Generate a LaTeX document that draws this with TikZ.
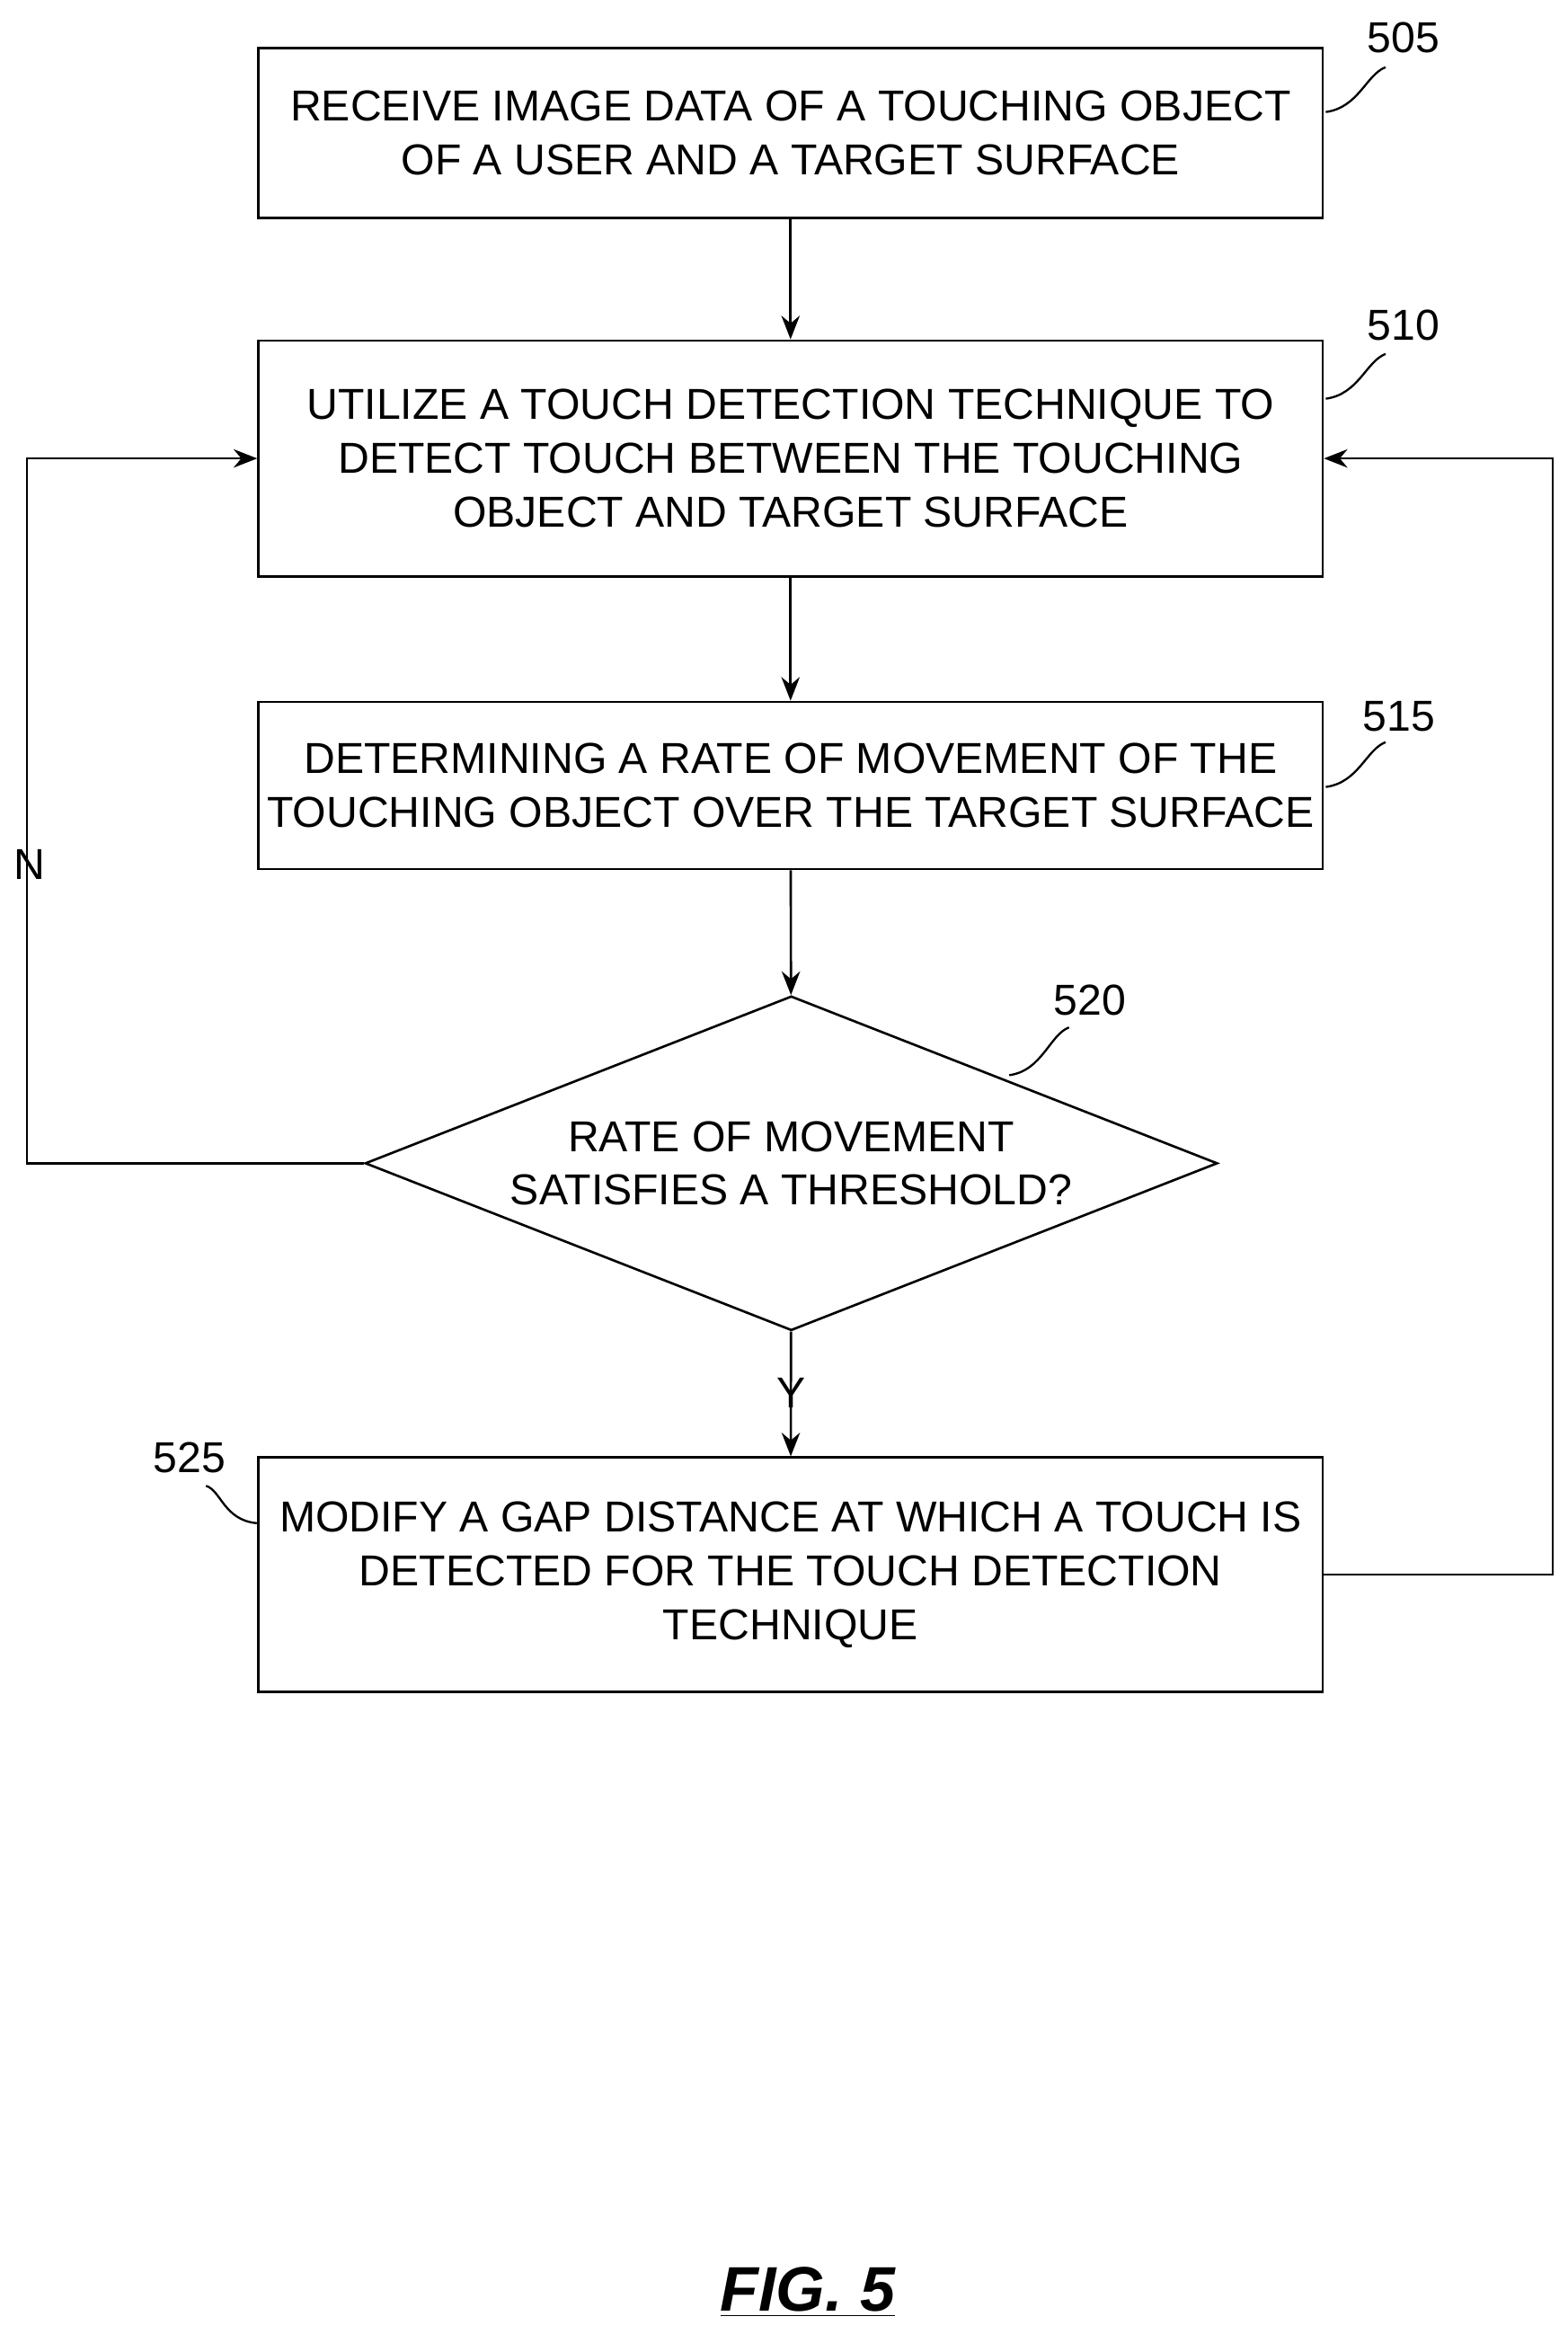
\documentclass[tikz,border=0pt]{standalone}
\usepackage{fontspec}
\setmainfont{Liberation Sans}
\usetikzlibrary{shapes.geometric,arrows.meta}

\begin{document}
\begin{tikzpicture}[x=0.02cm,y=-0.02cm,
  every node/.style={font=\fontsize{16.5}{20.5}\selectfont},
  stepbox/.style={draw,line width=0.9pt,align=center,inner sep=0pt},
  decision/.style={draw,diamond,line width=0.9pt,align=center,inner sep=0pt,aspect=2.55},
  flow/.style={line width=0.9pt,-{Stealth[length=9pt,width=7pt]}},
  lead/.style={line width=0.8pt}]
\useasboundingbox (0,0) rectangle (1050,1563);
\node[stepbox,minimum width=14.26cm,minimum height=2.28cm] (s505) at (529.5,89)
  {RECEIVE IMAGE DATA OF A TOUCHING OBJECT\\OF A USER AND A TARGET SURFACE};
\node[stepbox,minimum width=14.26cm,minimum height=3.16cm] (s510) at (529.5,307)
  {UTILIZE A TOUCH DETECTION TECHNIQUE TO\\DETECT TOUCH BETWEEN THE TOUCHING\\OBJECT AND TARGET SURFACE};
\node[stepbox,minimum width=14.26cm,minimum height=2.24cm] (s515) at (529.5,526)
  {DETERMINING A RATE OF MOVEMENT OF THE\\TOUCHING OBJECT OVER THE TARGET SURFACE};
\node[decision,minimum width=11.42cm,minimum height=4.48cm] (d520) at (530,779)
  {RATE OF MOVEMENT\\SATISFIES A THRESHOLD?};
\node[stepbox,minimum width=14.26cm,minimum height=3.14cm] (s525) at (529.5,1054.5)
  {MODIFY A GAP DISTANCE AT WHICH A TOUCH IS\\DETECTED FOR THE TOUCH DETECTION\\TECHNIQUE};

% connectors
\draw[flow] (s505) -- (s510);
\draw[flow] (s510) -- (s515);
\draw[flow] (s515) -- (d520);
\draw[flow] (d520) -- (s525);
\coordinate (nl) at (18,779);
\coordinate (rr) at (1040,1054.5);
\draw[flow] (d520.west) -- (nl) |- (s510.west);
\draw[flow] (s525.east) -- (rr) |- (s510.east);
\node (lN) at (20,579) {N};
\node (lY) at (530,933) {Y};

% reference numerals
\node (n505) at (940,25) {505};
\node (n510) at (940,218) {510};
\node (n515) at (937,480) {515};
\node (n520) at (730,670) {520};
\node (n525) at (127,976) {525};
\draw[lead] (888,75) .. controls (910,72) and (915,50) .. (928,45);
\draw[lead] (888,267) .. controls (910,264) and (915,242) .. (928,237);
\draw[lead] (888,527) .. controls (910,524) and (915,502) .. (928,497);
\draw[lead] (676,720) .. controls (698,717) and (703,693) .. (716,688);
\draw[lead] (172,1020) .. controls (150,1018) and (148,998) .. (138,995);

\node[font=\fontsize{24}{28}\selectfont\bfseries\itshape] (fig) at (541,1535) {\underline{FIG. 5}};
\end{tikzpicture}
\end{document}
